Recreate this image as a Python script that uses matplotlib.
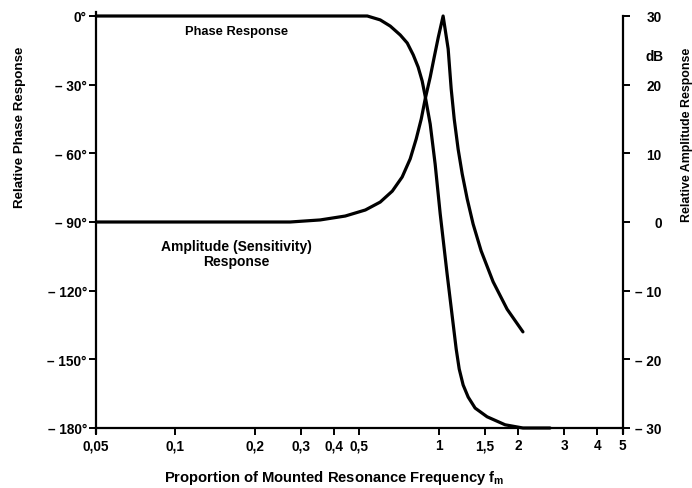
import matplotlib
matplotlib.use("Agg")
import matplotlib.pyplot as plt
from matplotlib.ticker import FixedLocator, NullLocator

# ---- data ----
phase_freq = [0.05, 0.536, 0.600, 0.655, 0.715, 0.760, 0.801, 0.836, 0.866, 0.889,
              0.929, 0.970, 1.014, 1.077, 1.126, 1.166, 1.197, 1.239, 1.295, 1.376,
              1.528, 1.789, 2.09, 2.65]
phase_deg = [0, 0, -1.7, -4.4, -8.3, -11.8, -17.0, -22.3, -28.4, -35.0,
             -47.2, -64.7, -86.5, -112.7, -131.1, -145.5, -154.2, -161.2, -166.5, -171.3,
             -175.1, -178.6, -180, -180]

amp_freq = [0.05, 0.273, 0.355, 0.442, 0.527, 0.600, 0.667, 0.727, 0.780, 0.822,
            0.859, 0.889, 0.929, 0.962, 0.997, 1.04, 1.087, 1.116, 1.146, 1.186,
            1.229, 1.284, 1.352, 1.45, 1.61, 1.82, 2.09]
amp_db = [0, 0, 0.3, 0.87, 1.75, 2.9, 4.5, 6.55, 9.2, 12.1,
          15.0, 17.9, 21.1, 24.0, 26.9, 30, 25.2, 19.4, 15.0, 10.6,
          7.0, 3.35, -0.3, -4.2, -8.7, -12.7, -16.0]

x_ticks = [0.05, 0.1, 0.2, 0.3, 0.4, 0.5, 1, 1.5, 2, 3, 4, 5]
x_tick_labels = ["0,05", "0,1", "0,2", "0,3", "0,4", "0,5", "1", "1,5", "2", "3", "4", "5"]
phase_ticks = [0, -30, -60, -90, -120, -150, -180]
phase_tick_labels = ["0°", "– 30°", "– 60°", "– 90°", "– 120°", "– 150°", "– 180°"]
db_ticks = [30, 20, 10, 0, -10, -20, -30]
db_tick_labels = ["30", "20", "10", "0", "– 10", "– 20", "– 30"]

plt.rcParams['font.family'] = ['Liberation Sans', 'DejaVu Sans']
plt.rcParams['font.weight'] = 'bold'

W, H = 692, 489
fig = plt.figure(figsize=(W / 100, H / 100), dpi=100)
ax = fig.add_axes([96 / W, 1 - 429 / H, (622.7 - 96) / W, (429 - 17) / H])
ax2 = ax.twinx()

lw_curve = 2.3
ax.plot(phase_freq, phase_deg, color='black', lw=lw_curve, clip_on=False,
        solid_capstyle='round', solid_joinstyle='round')
ax2.plot(amp_freq, amp_db, color='black', lw=lw_curve, clip_on=False,
         solid_capstyle='round', solid_joinstyle='round')

ax.set_xscale('log')
ax.set_xlim(0.05, 5)
ax.set_ylim(-180, 0)
ax2.set_ylim(-30, 30)

ax.xaxis.set_major_locator(FixedLocator(x_ticks))
ax.xaxis.set_minor_locator(NullLocator())
ax.set_xticklabels(x_tick_labels)
ax.set_yticks(phase_ticks)
ax.set_yticklabels(phase_tick_labels)
ax2.set_yticks(db_ticks)
ax2.set_yticklabels(db_tick_labels)

fs = 9.8
for a in (ax, ax2):
    a.spines['top'].set_visible(False)
    for s in a.spines.values():
        s.set_linewidth(1.6)
ax.spines['right'].set_visible(False)
ax2.spines['left'].set_visible(False)
ax2.spines['bottom'].set_visible(False)
ax.spines['left'].set_bounds(-182.2, 1.7)
ax2.spines['right'].set_bounds(-30.7, 30)

ax.tick_params(axis='x', direction='out', length=5, width=1.4, pad=2.5, labelsize=fs)
ax.tick_params(axis='y', direction='out', length=5, width=1.4, pad=1.5, labelsize=fs)
ax2.tick_params(axis='y', direction='out', length=5, width=1.4, pad=23, labelsize=fs)
for lab in ax2.get_yticklabels():
    lab.set_horizontalalignment('right')

ax.set_xlabel("Proportion of Mounted Resonance Frequency f$_\\mathregular{m}$",
              fontsize=10.6, fontweight='bold')
ax.xaxis.set_label_coords((334 - 96) / (622.7 - 96), -(478 - 429) / (429 - 17))
ax.xaxis.label.set_verticalalignment('center')

fig.text(20 / W, 1 - 127 / H, "Relative Phase Response", rotation=90,
         ha='center', va='center', fontsize=9.6, fontweight='bold')
fig.text(687 / W, 1 - 135 / H, "Relative Amplitude Response", rotation=90,
         ha='center', va='center', fontsize=8.9, fontweight='bold')
fig.text(655 / W, 1 - 57 / H, "dB", ha='center', va='center', fontsize=fs, fontweight='bold')

ax.text(0.1706, -6.6, "Phase Response", ha='center', va='center', fontsize=9.3,
        fontweight='bold')
ax.text(0.1706, -103.8, "Amplitude (Sensitivity)\nResponse", ha='center', va='center',
        fontsize=10, fontweight='bold', linespacing=1.1)

fig.savefig("out.png", dpi=100, facecolor='white')
